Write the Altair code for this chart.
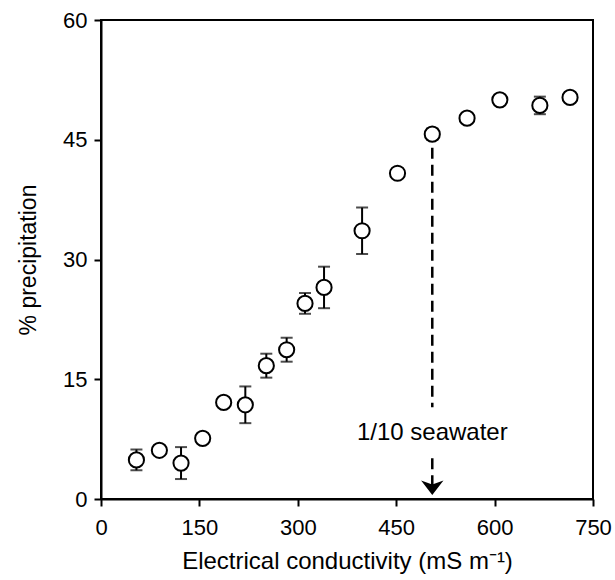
import altair as alt
import pandas as pd

conductivity = [54, 89, 122, 155, 187, 220, 252, 283, 311, 340, 398, 452, 505, 558, 608, 669, 715]
precip = [4.9, 6.1, 4.5, 7.6, 12.1, 11.8, 16.7, 18.7, 24.5, 26.5, 33.6, 40.8, 45.7, 47.7, 50.0, 49.3, 50.3]
err = [1.3, 0.0, 2.0, 0.0, 0.0, 2.3, 1.5, 1.5, 1.3, 2.6, 2.9, 0.0, 0.7, 0.0, 0.0, 1.1, 0.0]

x_ticks = [0, 150, 300, 450, 600, 750]
y_ticks = [0, 15, 30, 45, 60]

arrow_x = [505]
dash_top = [44.0]
dash_text_top = [11.5]
dash_text_bottom = [5.1]
arrow_head_y = [1.4]
label_text = ["1/10 seawater"]
label_y = [8.3]

df = pd.DataFrame({"x": conductivity, "y": precip, "e": err})
df["lo"] = df["y"] - df["e"]
df["hi"] = df["y"] + df["e"]
eb = df[df["e"] > 0]

FONT = "Liberation Sans"
FS = 22

xs = alt.Scale(domain=[0, 750], nice=False, zero=False)
ys = alt.Scale(domain=[0, 60], nice=False, zero=False)

xax = alt.Axis(values=x_ticks, title="Electrical conductivity (mS m\u207b\u00b9)", grid=False,
               labelFontSize=FS, titleFontSize=24, labelFont=FONT, titleFont=FONT,
               labelColor="black", titleColor="black", titleFontWeight="normal",
               domainColor="black", domainWidth=2, tickColor="black", tickWidth=2, tickSize=7,
               labelPadding=11, titlePadding=11, labelFlush=False)
yax = alt.Axis(values=y_ticks, title="% precipitation", grid=False,
               labelFontSize=FS, titleFontSize=23, labelFont=FONT, titleFont=FONT,
               labelColor="black", titleColor="black", titleFontWeight="normal",
               domainColor="black", domainWidth=2, tickColor="black", tickWidth=2, tickSize=7,
               labelPadding=7, titlePadding=22, labelFlush=False)

rules = alt.Chart(eb).mark_rule(color="black", strokeWidth=2).encode(
    x=alt.X("x:Q", scale=xs, axis=xax),
    y=alt.Y("lo:Q", scale=ys, axis=yax),
    y2="hi:Q",
)
caps_hi = alt.Chart(eb).mark_tick(color="black", thickness=2, size=12, orient="horizontal").encode(
    x=alt.X("x:Q", scale=xs), y=alt.Y("hi:Q", scale=ys))
caps_lo = alt.Chart(eb).mark_tick(color="black", thickness=2, size=12, orient="horizontal").encode(
    x=alt.X("x:Q", scale=xs), y=alt.Y("lo:Q", scale=ys))

pts = alt.Chart(df).mark_point(shape="circle", size=230, filled=True, fill="white", stroke="black",
                               strokeWidth=2, opacity=1).encode(
    x=alt.X("x:Q", scale=xs), y=alt.Y("y:Q", scale=ys))

adf = pd.DataFrame({"x": arrow_x, "top": dash_top, "ttop": dash_text_top,
                    "tbot": dash_text_bottom, "hy": arrow_head_y,
                    "label": label_text, "ly": label_y})

dash1 = alt.Chart(adf).mark_rule(color="black", strokeWidth=2.5, strokeDash=[11, 6]).encode(
    x=alt.X("x:Q", scale=xs), y=alt.Y("top:Q", scale=ys), y2="ttop:Q")
dash2 = alt.Chart(adf).mark_rule(color="black", strokeWidth=2.5, strokeDash=[11, 6]).encode(
    x=alt.X("x:Q", scale=xs), y=alt.Y("tbot:Q", scale=ys), y2="hy:Q")
head = alt.Chart(adf).mark_point(shape="M-1,-0.65 L0,0.65 L1,-0.65 L0,-0.3 Z", size=500, filled=True,
                                 color="black", opacity=1).encode(
    x=alt.X("x:Q", scale=xs), y=alt.Y("hy:Q", scale=ys))
label = alt.Chart(adf).mark_text(fontSize=24, font=FONT, color="black", align="center",
                                 baseline="middle").encode(
    x=alt.X("x:Q", scale=xs), y=alt.Y("ly:Q", scale=ys), text="label:N")

chart = alt.layer(rules, caps_hi, caps_lo, pts, dash1, dash2, head, label).properties(
    width=492, height=479,
    autosize=alt.AutoSizeParams(type="none"),
    padding={"left": 101, "top": 20, "right": 22, "bottom": 81},
    background="white",
).configure_view(stroke="black", strokeWidth=2)

chart.save("out.html", embed_options={"renderer": "svg", "actions": False})
